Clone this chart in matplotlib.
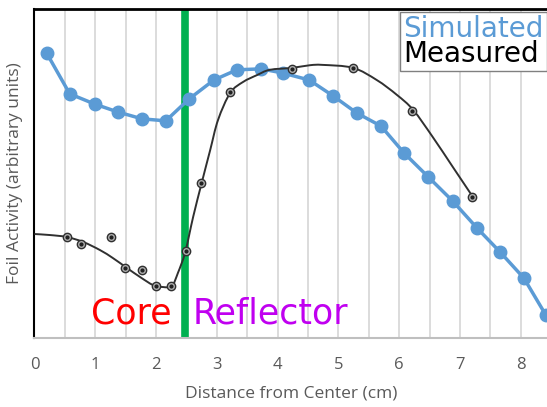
#!/usr/bin/env python3
"""Foil activation profile: simulated vs measured across the core/reflector boundary."""

import matplotlib
matplotlib.use("Agg")
import matplotlib.pyplot as plt
from matplotlib.patches import PathPatch
from matplotlib.path import Path

plt.rcParams["font.family"] = ["Open Sans", "DejaVu Sans"]

# Simulated foil activity (arbitrary units)
sim_x = [0.20, 0.58, 0.99, 1.37, 1.77, 2.16, 2.54, 2.95, 3.33, 3.73, 4.09,
         4.52, 4.91, 5.30, 5.70, 6.08, 6.48, 6.88, 7.28, 7.66, 8.05, 8.41]
sim_y = [0.866, 0.742, 0.711, 0.687, 0.666, 0.660, 0.726, 0.784, 0.815, 0.818, 0.805,
         0.784, 0.736, 0.684, 0.644, 0.562, 0.489, 0.416, 0.334, 0.261, 0.182, 0.070]

# Measured foil activity points
meas_x = [0.53, 0.76, 1.26, 1.49, 1.77, 2.00, 2.25, 2.49, 2.74, 3.22, 4.24, 5.24, 6.21, 7.20]
meas_y = [0.307, 0.286, 0.307, 0.213, 0.207, 0.158, 0.158, 0.264, 0.471, 0.748,
          0.818, 0.821, 0.690, 0.429]

fit_x = [0.00, 0.25, 0.53, 0.80, 1.08, 1.29, 1.52, 1.74, 1.95, 2.11, 2.26, 2.36, 2.48,
         2.61, 2.75, 2.89, 3.02, 3.22, 3.43, 3.66, 3.87, 4.24, 4.53, 4.74, 5.24, 5.63,
         5.96, 6.23, 6.55, 6.88, 7.21]
fit_y = [0.316, 0.313, 0.307, 0.292, 0.267, 0.243, 0.213, 0.185, 0.161, 0.155, 0.158,
         0.198, 0.261, 0.368, 0.471, 0.571, 0.663, 0.745, 0.778, 0.799, 0.815, 0.821,
         0.829, 0.830, 0.821, 0.784, 0.739, 0.693, 0.611, 0.520, 0.429]

boundary_x = 2.47
x_ticks = [0, 1, 2, 3, 4, 5, 6, 7, 8]

BLUE = "#5b9bd5"
GREEN = "#00b050"
GRAY_TEXT = "#595959"
WIDE_FONT = ["DejaVu Sans"]


def smooth_path(xs, ys):
    """Catmull-Rom style cubic Bezier path through the given knots."""
    pts = list(zip(xs, ys))
    verts = [pts[0]]
    codes = [Path.MOVETO]
    for i in range(len(pts) - 1):
        p0 = pts[i - 1] if i > 0 else pts[i]
        p1 = pts[i]
        p2 = pts[i + 1]
        p3 = pts[i + 2] if i + 2 < len(pts) else pts[i + 1]
        c1 = (p1[0] + (p2[0] - p0[0]) / 6, p1[1] + (p2[1] - p0[1]) / 6)
        c2 = (p2[0] - (p3[0] - p1[0]) / 6, p2[1] - (p3[1] - p1[1]) / 6)
        verts += [c1, c2, p2]
        codes += [Path.CURVE4] * 3
    return Path(verts, codes)


fig = plt.figure(figsize=(5.47, 4.07), dpi=100)
ax = fig.add_axes([0.063, 0.1695, 0.937, 0.8085])

for gx in [i * 0.5 for i in range(1, 17)]:
    ax.axvline(gx, color="#d9d9d9", linewidth=1.3, zorder=0)

ax.axvline(boundary_x, color=GREEN, linewidth=5.5, zorder=1)

sim_line, = ax.plot(sim_x, sim_y, "-o", color=BLUE, linewidth=2.5, markersize=9,
                    markeredgecolor=BLUE, zorder=3, label="Simulated")
ax.add_patch(PathPatch(smooth_path(fit_x, fit_y), facecolor="none",
                       edgecolor="#303030", linewidth=1.4, zorder=4))
meas_line, = ax.plot([], [], "-", color="#303030", label="Measured")
ax.plot(meas_x, meas_y, "o", markersize=6, markerfacecolor="#b0b0b0",
        markeredgecolor="#303030", markeredgewidth=1.0, zorder=5)
ax.plot(meas_x, meas_y, "o", markersize=2, color="#202020", zorder=6)

ax.text(0.93, 0.045, "Core", color="#ff0000", fontsize=25, ha="left", va="baseline",
        family=WIDE_FONT, transform=ax.get_xaxis_transform())
ax.text(2.6, 0.045, "Reflector", color="#c000f0", fontsize=25, ha="left", va="baseline",
        family=WIDE_FONT, transform=ax.get_xaxis_transform())

ax.set_xlim(0, 8.43)
ax.set_ylim(0, 1)
ax.set_xticks(x_ticks)
ax.set_yticks([])
ax.tick_params(axis="x", length=0, pad=14, labelsize=12, labelcolor=GRAY_TEXT)
ax.set_xlabel("Distance from Center (cm)", fontsize=12.5, color=GRAY_TEXT, labelpad=9)
ax.set_ylabel("Foil Activity (arbitrary units)", fontsize=12.5, color=GRAY_TEXT, labelpad=8)

ax.spines["right"].set_visible(False)
ax.spines["left"].set_color("black")
ax.spines["left"].set_linewidth(1.5)
ax.spines["top"].set_color("black")
ax.spines["top"].set_linewidth(2)
ax.spines["bottom"].set_color("#bfbfbf")
ax.spines["bottom"].set_linewidth(1.5)

leg = ax.legend(handles=[sim_line, meas_line], loc="upper right",
                bbox_to_anchor=(1.0, 0.992), borderaxespad=0, handlelength=0,
                handletextpad=0, fancybox=False, framealpha=1,
                prop={"family": WIDE_FONT, "size": 20},
                edgecolor="#808080", borderpad=0.12, labelspacing=-0.1)
leg.get_frame().set_linewidth(1)
for handle in leg.legend_handles:
    handle.set_visible(False)
for text, col in zip(leg.get_texts(), [BLUE, "black"]):
    text.set_color(col)

fig.savefig("out.png", dpi=100)
